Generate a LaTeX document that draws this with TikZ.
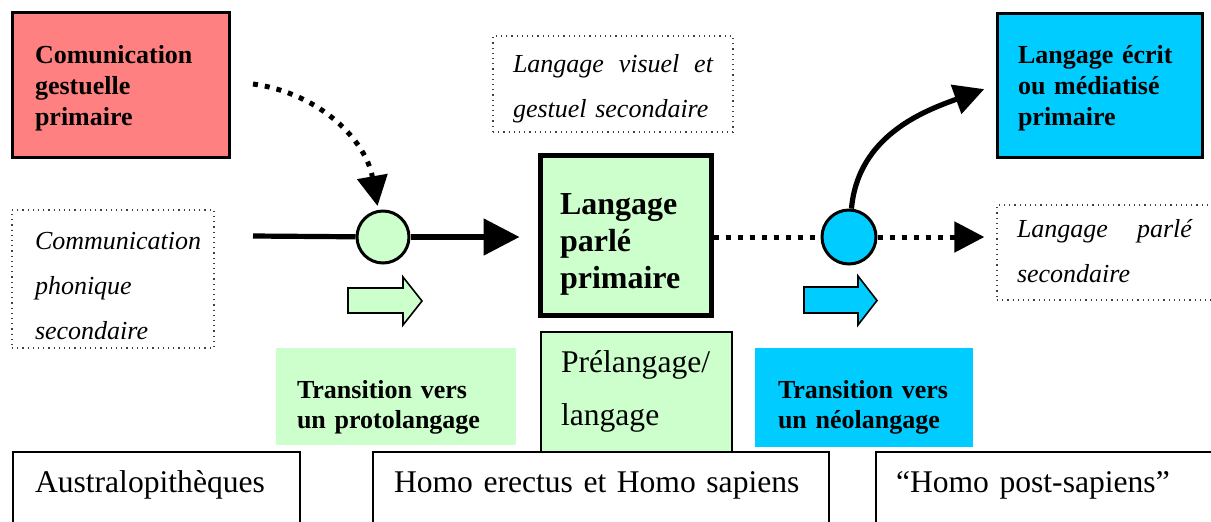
\documentclass[tikz,border=0pt]{standalone}
\usepackage{fontspec}
\setmainfont{Liberation Serif}
\usetikzlibrary{arrows.meta}

\definecolor{gestPink}{RGB}{255,128,128}
\definecolor{paleGreen}{RGB}{204,255,204}
\definecolor{skyCyan}{RGB}{0,204,255}

\tikzset{
    prim/.style={draw, line width=1.5pt, align=left, font=\fontsize{13}{15.5}\selectfont\bfseries},
    sec/.style={draw=black!75, dotted, line width=0.6pt, align=left, font=\fontsize{13}{22.5}\selectfont\itshape},
    trans/.style={align=left, font=\fontsize{13}{15}\selectfont\bfseries},
    era/.style={draw, fill=white, line width=0.9pt, align=left, font=\fontsize{15.8}{20}\selectfont},
    hub/.style={circle, draw, line width=1.5pt},
    solidline/.style={line width=2.6pt},
    dotline/.style={line width=2.5pt, dash pattern=on 2.5pt off 3.5pt},
    headarrow/.style={-{Triangle[length=15pt,width=15pt]}},
    bigheadarrow/.style={-{Triangle[length=18pt,width=18pt]}}
}

\begin{document}
\begin{tikzpicture}[x=0.5pt, y=0.5pt]
        \clip (0,0) rectangle (1211,-521);

        \node[prim, fill=gestPink, minimum width=108.5pt, minimum height=72.5pt, inner xsep=11.5pt,
            text width=85.5pt, text height=10pt, text depth=31.5pt] (gestPrim) at (120.5,-84.5)
            {Comunication\\gestuelle\\primaire};
        \node[sec, minimum width=120pt, minimum height=48pt, inner xsep=10pt,
            text width=100pt, text height=10pt, text depth=22pt] (visSec) at (613,-84)
            {\makebox[\linewidth][l]{Langage\hfill visuel\hfill et}\\gestuel secondaire};
        \node[sec, minimum width=101pt, minimum height=69pt, inner xsep=11.5pt,
            text width=78pt, text height=10pt, text depth=40pt] (phonSec) at (113,-279)
            {Communication\\phonique\\secondaire};
        \node[prim, fill=paleGreen, line width=2.5pt, font=\fontsize{16}{18.5}\selectfont\bfseries,
            minimum width=85.5pt, minimum height=80pt, inner xsep=10pt,
            text width=65.5pt, text height=11pt, text depth=32pt] (parlePrim) at (625.5,-235)
            {Langage\\parlé\\primaire};
        \node[prim, fill=skyCyan, minimum width=102.5pt, minimum height=72pt, inner xsep=10.5pt,
            text width=81.5pt, text height=10pt, text depth=32pt] (ecritPrim) at (1099.5,-85)
            {Langage écrit\\ou médiatisé\\primaire};
        \node[sec, minimum width=120pt, minimum height=47.5pt, inner xsep=10pt,
            text width=100pt, text height=10pt, text depth=25.5pt] (parleSec) at (1117,-252.5)
            {\makebox[87.5pt][l]{Langage\hfill parlé}\\secondaire};

        \node[hub, fill=paleGreen, minimum size=26pt] (gC) at (383,-237) {};
        \node[hub, fill=skyCyan, minimum size=27pt] (cC) at (849,-237) {};

        % block arrows
        \draw[line width=0.8pt, fill=paleGreen] (348,-288) -- (403,-288) -- (403,-277) -- (422,-301)
            -- (403,-325) -- (403,-313) -- (348,-313) -- cycle;
        \draw[line width=0.8pt, fill=skyCyan] (804,-287) -- (858,-287) -- (858,-276) -- (877,-300.5)
            -- (858,-325) -- (858,-313) -- (804,-313) -- cycle;

        \node[trans, fill=paleGreen, minimum width=120pt, minimum height=48.5pt, inner xsep=10.5pt,
            text width=99pt, text height=12pt, text depth=10.5pt] (transProto) at (396,-396.5)
            {Transition vers\\un protolangage};
        \node[trans, fill=skyCyan, minimum width=109pt, minimum height=49.5pt, inner xsep=11.5pt,
            text width=86pt, text height=11pt, text depth=10.5pt] (transNeo) at (864,-397.5)
            {Transition vers\\un néolangage};
        \node[draw, line width=0.8pt, fill=paleGreen, align=left, font=\fontsize{15.8}{26.5}\selectfont,
            minimum width=95.5pt, minimum height=63pt, inner xsep=10pt,
            text width=75.5pt, text height=11pt, text depth=34pt] (preLang) at (636.5,-395)
            {Prélangage/\\langage};

        % periods
        \node[era, minimum width=143.5pt, minimum height=44pt, inner xsep=11pt,
            text width=121.5pt, text height=12pt, text depth=16pt] (austr) at (156.5,-496)
            {Australopithèques};
        \node[era, minimum width=228pt, minimum height=44pt, inner xsep=10.5pt,
            text width=207pt, text height=12pt, text depth=16pt] (homoES) at (601,-496)
            {Homo erectus et Homo sapiens};
        \node[era, minimum width=182pt, minimum height=44pt, inner xsep=10pt,
            text width=162pt, text height=12pt, text depth=16pt] (homoPS) at (1058,-496)
            {“Homo post-sapiens”};

        \coordinate (gestStart) at (253,-84);
        \coordinate (phonStart) at (253,-236);

        \draw[dotline, headarrow, shorten >=2pt] (gestStart) to[out=-8, in=100] (gC);
        \draw[solidline] (phonStart) -- (gC);
        \draw[solidline, bigheadarrow, shorten >=9pt] (gC) -- (gC -| parlePrim.west);
        \draw[dotline] (cC -| parlePrim.east) -- (cC);
        \draw[dotline, headarrow, shorten >=6pt] (cC) -- (cC -| parleSec.west);
        \draw[solidline, headarrow, shorten >=6pt] (cC) to[out=85, in=200] (ecritPrim.west);
    \end{tikzpicture}
\end{document}
